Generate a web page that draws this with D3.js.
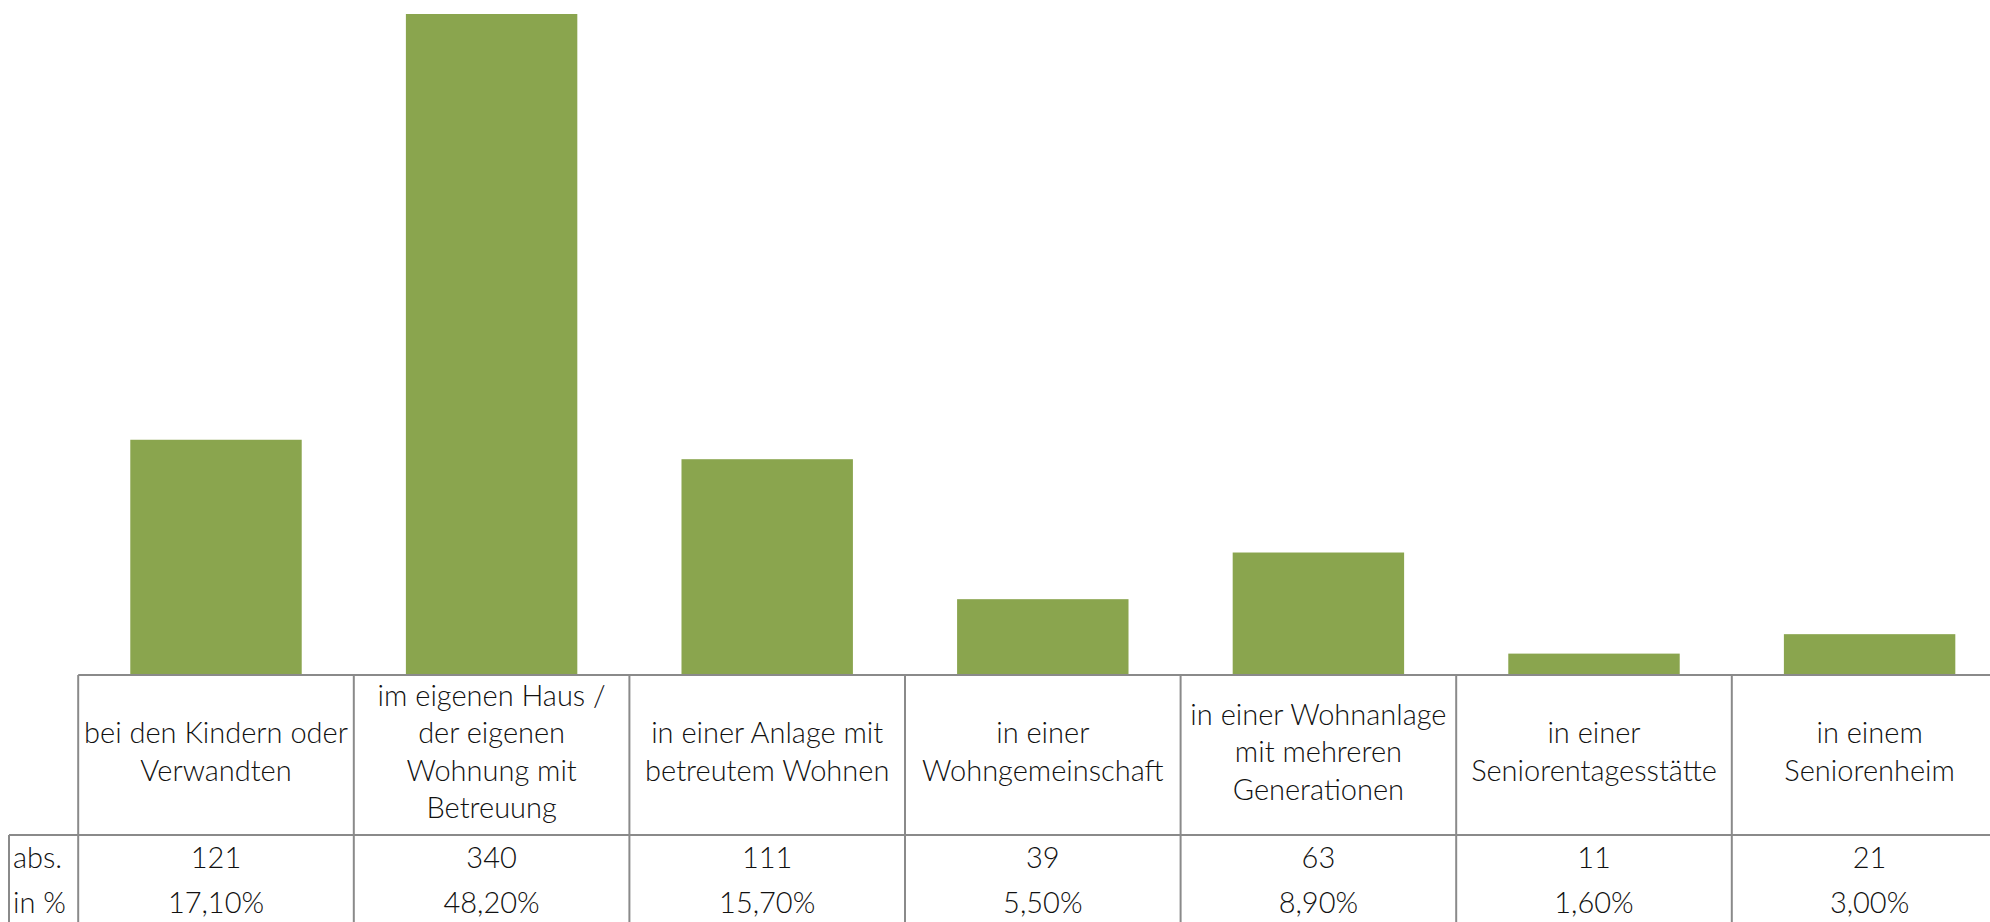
<!DOCTYPE html>
<html>
<head>
<meta charset="utf-8">
<script src="https://cdn.jsdelivr.net/npm/d3@7"></script>
<style>
  body { margin: 0; background: #fff; }
  svg text { font-family: Lato, "Open Sans", sans-serif; font-weight: 300; fill: #111; }
</style>
</head>
<body>
<div class="chart"></div>
<script>
// data
var categories = [
  "bei den Kindern oder Verwandten",
  "im eigenen Haus / der eigenen Wohnung mit Betreuung",
  "in einer Anlage mit betreutem Wohnen",
  "in einer Wohngemeinschaft",
  "in einer Wohnanlage mit mehreren Generationen",
  "in einer Seniorentagesstätte",
  "in einem Seniorenheim"
];
// how the labels wrap in the table header
var labelLines = [
  ["bei den Kindern oder", "Verwandten"],
  ["im eigenen Haus /", "der eigenen", "Wohnung mit", "Betreuung"],
  ["in einer Anlage mit", "betreutem Wohnen"],
  ["in einer", "Wohngemeinschaft"],
  ["in einer Wohnanlage", "mit mehreren", "Generationen"],
  ["in einer", "Seniorentagesstätte"],
  ["in einem", "Seniorenheim"]
];
var absValues = [121, 340, 111, 39, 63, 11, 21];
var pctValues = [17.1, 48.2, 15.7, 5.5, 8.9, 1.6, 3.0];
var rowLabels = ["abs.", "in %"];

var width = 1990, height = 922;
var left = 78.2, step = 275.6;
var axisY = 675, headH = 160, rowH = 45;
var rowLeft = 9;

var de = d3.formatLocale({decimal: ",", thousands: ".", grouping: [3], currency: ["", " €"]});
var fmtPct = function (v) { return de.format(".2f")(v) + "%"; };

var svg = d3.select(".chart").append("svg")
    .attr("width", width)
    .attr("height", height);

var x = d3.scaleBand()
    .domain(categories)
    .range([left, left + step * categories.length])
    .paddingInner(0.378)
    .paddingOuter(0.189);

var y = d3.scaleLinear()
    .domain([0, 340])
    .range([axisY, 14]);

// bars
svg.append("g").selectAll("rect")
    .data(absValues)
    .enter().append("rect")
    .attr("x", function (d, i) { return x(categories[i]); })
    .attr("y", function (d) { return y(d); })
    .attr("width", x.bandwidth())
    .attr("height", function (d) { return y(0) - y(d); })
    .style("fill", "#8aa54e");

// data table under the bars
var grid = svg.append("g").attr("stroke", "#8a8a8a").attr("stroke-width", 2);
var tableRight = left + step * categories.length;
var tableBottom = axisY + headH + rowH * 2 + 5;

grid.append("line")
    .attr("x1", left).attr("x2", tableRight)
    .attr("y1", axisY).attr("y2", axisY);
grid.append("line")
    .attr("x1", rowLeft).attr("x2", tableRight)
    .attr("y1", axisY + headH).attr("y2", axisY + headH);
grid.append("line")
    .attr("x1", rowLeft).attr("x2", rowLeft)
    .attr("y1", axisY + headH).attr("y2", tableBottom);

var bounds = categories.map(function (c) { return x(c) - x.step() * x.paddingOuter(); });
bounds.push(tableRight);
grid.selectAll("line.col")
    .data(bounds)
    .enter().append("line")
    .attr("class", "col")
    .attr("x1", function (d) { return d; })
    .attr("x2", function (d) { return d; })
    .attr("y1", axisY)
    .attr("y2", tableBottom);

var fontSize = 29;
var lineH = 37.5;

// header labels
var head = svg.append("g").selectAll("text")
    .data(labelLines)
    .enter().append("text")
    .attr("text-anchor", "middle")
    .style("font-size", fontSize + "px")
    .attr("transform", function (d, i) {
        var cx = x(categories[i]) + x.bandwidth() / 2;
        var cy = axisY + headH / 2 - 3 - (d.length - 1) * lineH / 2;
        return "translate(" + cx + "," + cy + ")";
    });
head.selectAll("tspan")
    .data(function (d) { return d; })
    .enter().append("tspan")
    .attr("x", 0)
    .attr("y", function (d, i) { return i * lineH; })
    .attr("dy", "0.35em")
    .text(function (d) { return d; });

// data rows
var rows = [absValues.map(String), pctValues.map(fmtPct)];
rows.forEach(function (vals, r) {
    var cy = axisY + headH + rowH * r + rowH / 2;
    svg.append("text")
        .attr("x", rowLeft + 4)
        .attr("y", cy)
        .attr("dy", "0.35em")
        .style("font-size", fontSize + "px")
        .text(rowLabels[r]);
    svg.append("g").selectAll("text")
        .data(vals)
        .enter().append("text")
        .attr("x", function (d, i) { return x(categories[i]) + x.bandwidth() / 2; })
        .attr("y", cy)
        .attr("dy", "0.35em")
        .attr("text-anchor", "middle")
        .style("font-size", fontSize + "px")
        .text(function (d) { return d; });
});
</script>
</body>
</html>
